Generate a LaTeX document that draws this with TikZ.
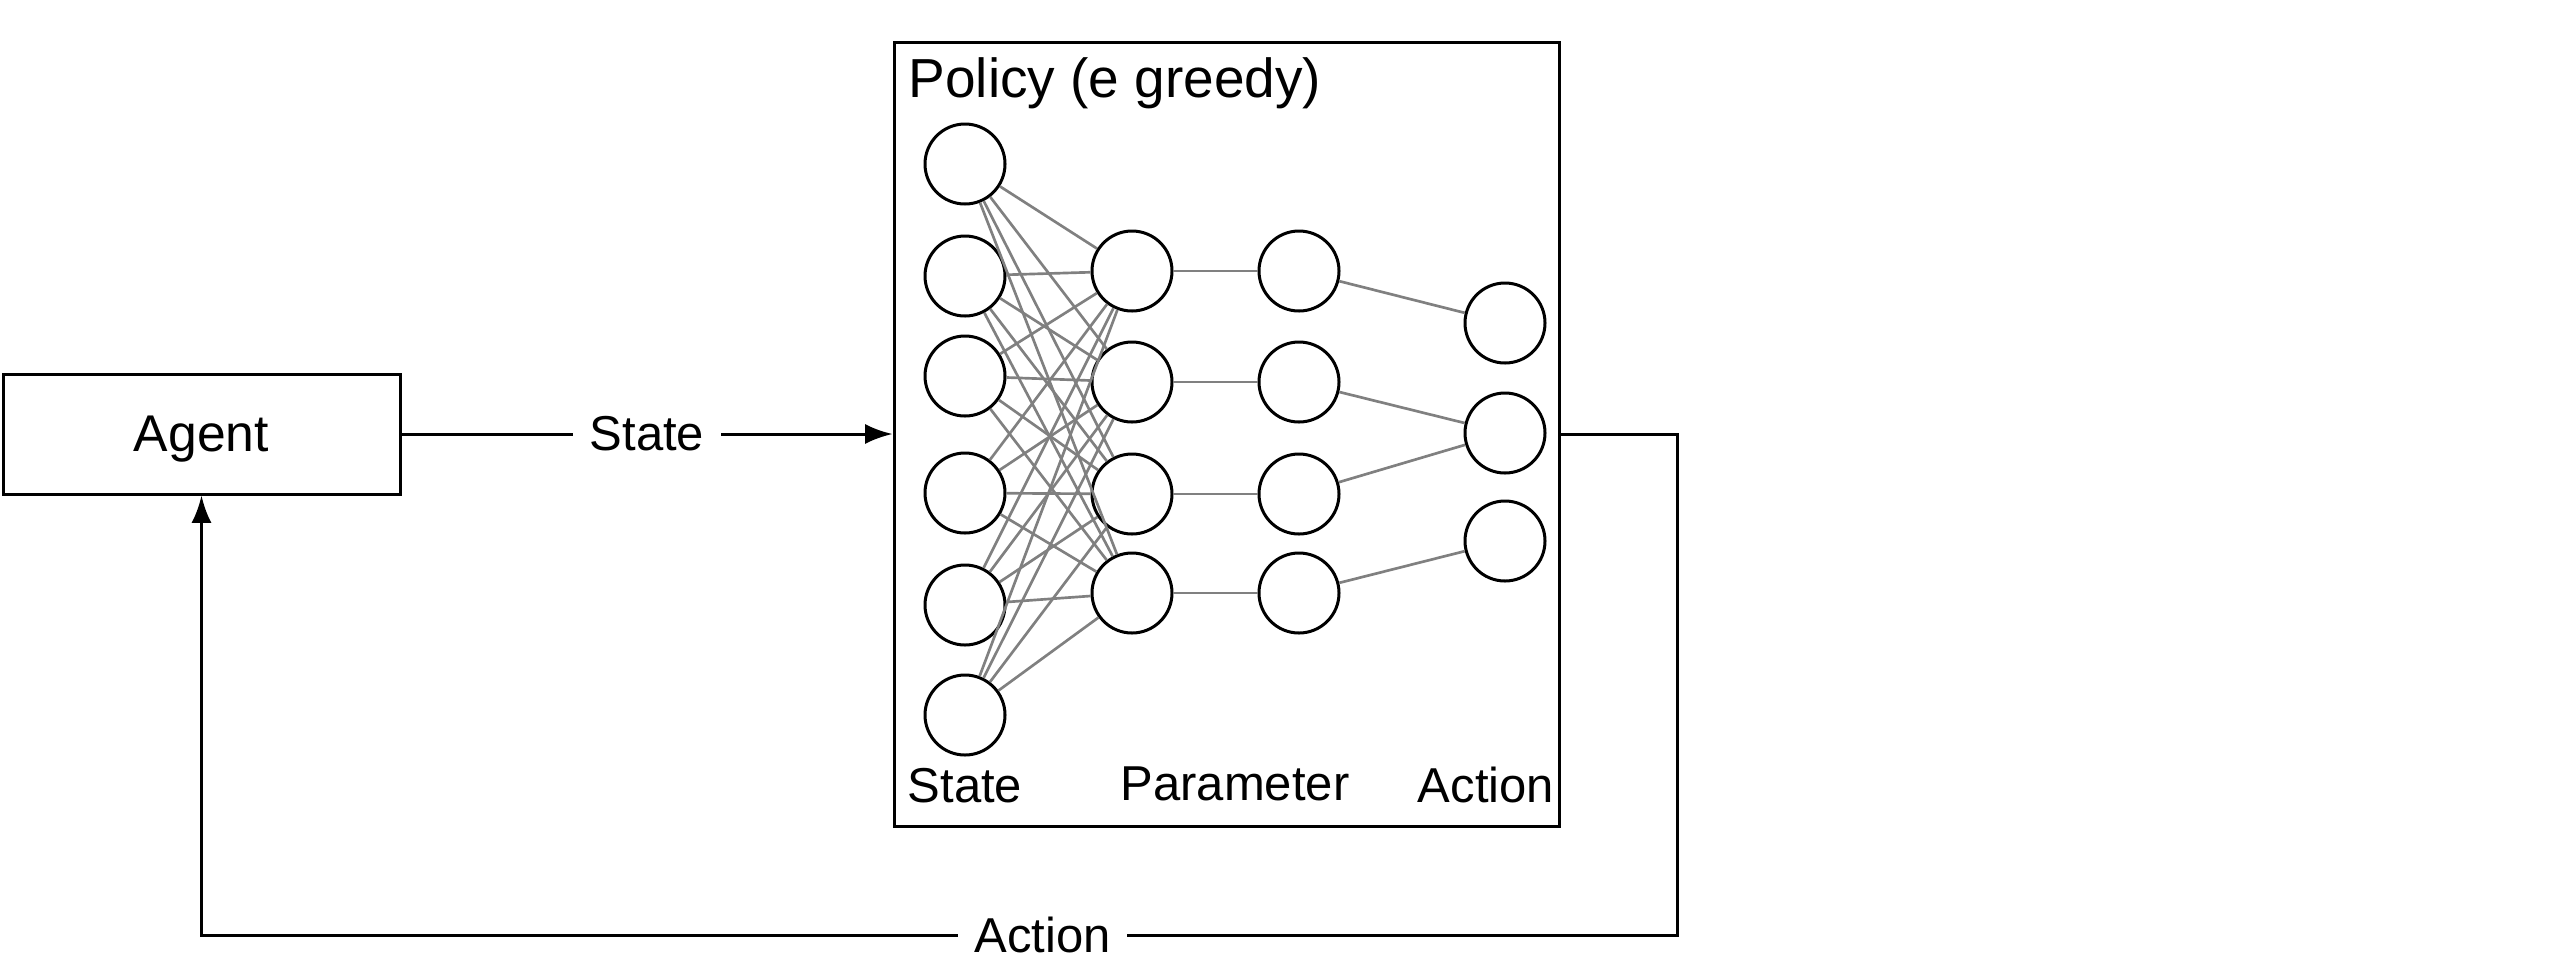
\documentclass[tikz,border=0pt]{standalone}
\usepackage{fontspec}
\setmainfont{Liberation Sans}
\usetikzlibrary{arrows.meta}
\definecolor{edgegray}{RGB}{128,128,128}
\begin{document}
\begin{tikzpicture}[x=0.3pt,y=-0.3pt,
  neuron/.style={circle,draw=black,line width=0.9pt,minimum size=24pt,inner sep=0pt,fill=white},
  box/.style={draw=black,line width=0.9pt,inner sep=0pt},
  wire/.style={draw=edgegray,line width=0.8pt},
  link/.style={draw=black,line width=0.9pt},
  lbl/.style={font=\fontsize{14.7}{17}\selectfont,inner sep=0pt},
  onlbl/.style={font=\fontsize{14.7}{17}\selectfont,fill=white,inner sep=5pt},
  tip/.style={-{Latex[length=8.2pt,width=6pt]}}
]
\useasboundingbox (0,0) rectangle (2549,977);
\node[box,minimum width=119.1pt,minimum height=36pt,text depth=0pt] (agent) at (201.5,434) {\fontsize{15.5}{18}\selectfont Agent};
\node[box,minimum width=199.5pt,minimum height=235.2pt] (policy) at (1226.5,434) {};
\node[lbl,anchor=base west,font=\fontsize{16.5}{19}\selectfont] (title) at (908,97) {Policy (e greedy)};

% layers
\foreach \n/\y in {1/164,2/276,3/376,4/493,5/605,6/715}
  \node[neuron] (i\n) at (965,\y) {};
\foreach \n/\y in {1/271,2/382,3/494,4/593}{
  \node[neuron] (h\n) at (1132,\y) {};
  \node[neuron] (p\n) at (1299,\y) {};
}
\foreach \n/\y in {1/323,2/433,3/541}
  \node[neuron] (o\n) at (1505,\y) {};

% connections
\foreach \i in {1,...,6}
  \foreach \j in {1,...,4}
    \draw[wire] (i\i) -- (h\j);
\foreach \j in {1,...,4}
  \draw[wire] (h\j) -- (p\j);
\draw[wire] (p1) -- (o1);
\draw[wire] (p2) -- (o2);
\draw[wire] (p3) -- (o2);
\draw[wire] (p4) -- (o3);

% layer labels
\node[lbl,anchor=base] (lstate) at (965,802) {State};
\node[lbl,anchor=base] (lparam) at (1235,800) {Parameter};
\node[lbl,anchor=base] (laction) at (1486,802) {Action};

% flow
\draw[link,tip] (agent.east) -- node[onlbl] {State} (policy.west);
\coordinate (r1) at (1677,434);
\coordinate (r2) at (1677,935);
\coordinate (l1) at (201.5,935);
\draw[link,tip] (policy.east) -- (r1) -- (r2) -- node[onlbl,pos=0.43] {Action} (l1) -- (agent.south);
\end{tikzpicture}
\end{document}
